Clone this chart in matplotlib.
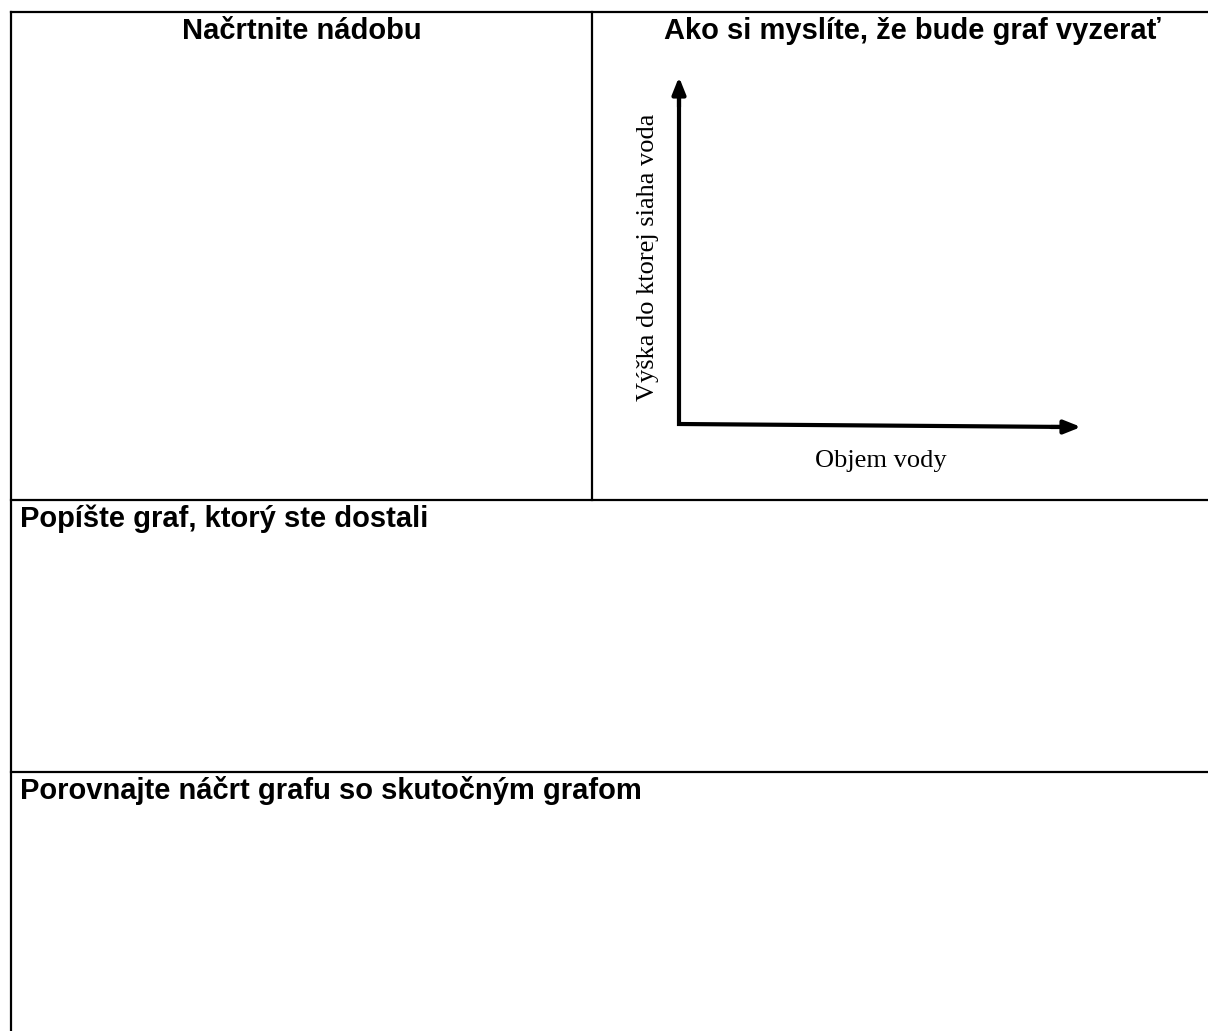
"""Pracovný list: náčrt nádoby a graf výšky hladiny vody."""
import matplotlib
matplotlib.use("Agg")
import matplotlib.pyplot as plt

W, H = 1208, 1031

# texty hlavičiek buniek
HEAD_LEFT = "Načrtnite nádobu"
HEAD_RIGHT = "Ako si myslíte, že bude graf vyzerať"
HEAD_ROW2 = "Popíšte graf, ktorý ste dostali"
HEAD_ROW3 = "Porovnajte náčrt grafu so skutočným grafom"
Y_LABEL = "Výška do ktorej siaha voda"
X_LABEL = "Objem vody"

# mriežka tabuľky (pixely)
TABLE_LEFT = 11
TABLE_TOP = 12
COL_SPLIT = 592
ROW_LINES = [500, 772]

# osi náčrtu grafu
ORIGIN = (679, 424)
Y_TIP = (679, 77)
X_TIP = (1081, 427)

_TEXT = "black"
_SANS = ["Liberation Sans", "DejaVu Sans"]
_SERIF = ["Liberation Serif", "DejaVu Serif"]

fig = plt.figure(figsize=(W / 100, H / 100), dpi=100)
fig.patch.set_facecolor("white")
ax = fig.add_axes([0, 0, 1, 1])
ax.set_xlim(0, W)
ax.set_ylim(H, 0)
ax.axis("off")

# ── tabuľka ──
lw_table = 1.6
ax.plot([TABLE_LEFT, TABLE_LEFT], [TABLE_TOP, H + 5], color=_TEXT, lw=lw_table,
        solid_capstyle="projecting")
ax.plot([TABLE_LEFT, W + 5], [TABLE_TOP, TABLE_TOP], color=_TEXT, lw=lw_table,
        solid_capstyle="projecting")
ax.plot([COL_SPLIT, COL_SPLIT], [TABLE_TOP, ROW_LINES[0]], color=_TEXT, lw=lw_table)
for y in ROW_LINES:
    ax.plot([TABLE_LEFT, W + 5], [y, y], color=_TEXT, lw=lw_table)

# ── hlavičky ──
head_kw = dict(fontsize=21, fontweight="bold", family=_SANS, color=_TEXT,
               va="baseline")
ax.text((TABLE_LEFT + COL_SPLIT) / 2, 39, HEAD_LEFT, ha="center", **head_kw)
ax.text(912, 39, HEAD_RIGHT, ha="center", **head_kw)
ax.text(20, ROW_LINES[0] + 27, HEAD_ROW2, ha="left", **head_kw)
ax.text(20, ROW_LINES[1] + 27, HEAD_ROW3, ha="left", **head_kw)

# ── osi náčrtu ──
ax.plot([Y_TIP[0], ORIGIN[0], X_TIP[0] - 10], [Y_TIP[1] + 10, ORIGIN[1], X_TIP[1]],
        color=_TEXT, lw=3, solid_joinstyle="miter", solid_capstyle="butt")
arrow_kw = dict(arrowstyle="-|>,head_length=1.0,head_width=0.4",
                color=_TEXT, lw=3, shrinkA=0, shrinkB=0)
ax.annotate("", xy=Y_TIP, xytext=(Y_TIP[0], Y_TIP[1] + 30), arrowprops=arrow_kw)
ax.annotate("", xy=X_TIP, xytext=(X_TIP[0] - 30, X_TIP[1]), arrowprops=arrow_kw)

ax.text(648, 257, Y_LABEL, rotation=90, ha="center", va="center",
        fontsize=19, family=_SERIF, color=_TEXT)
ax.text(881, 461, X_LABEL, ha="center", va="center",
        fontsize=19, family=_SERIF, color=_TEXT)

fig.savefig("out.png", dpi=100, facecolor="white")
